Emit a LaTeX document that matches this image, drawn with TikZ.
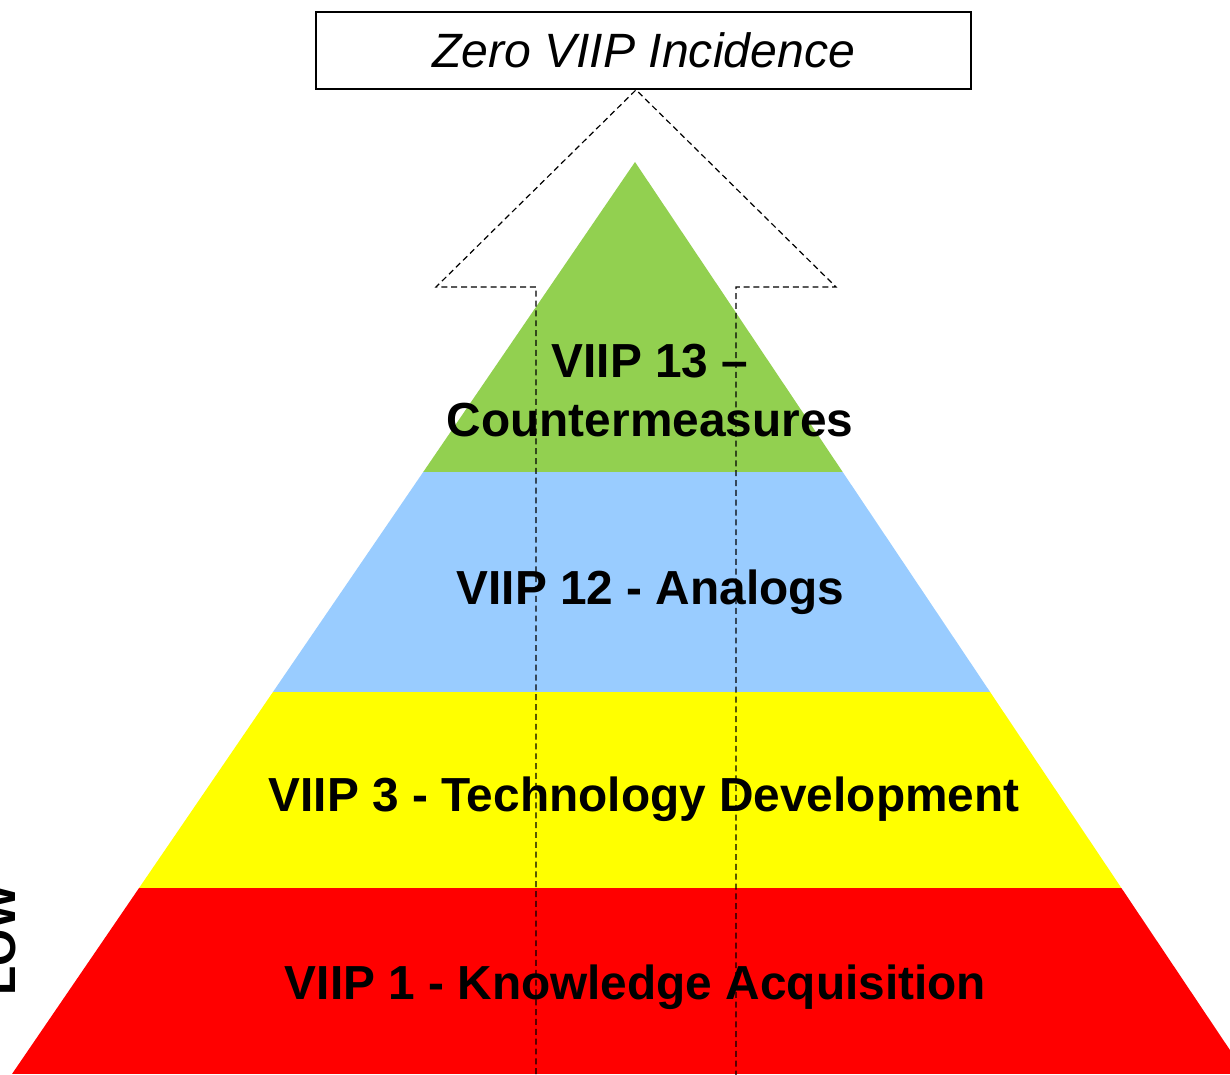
\documentclass[tikz,border=0pt]{standalone}
\usepackage{fontspec}
\setmainfont{Liberation Sans}
\definecolor{tiergreen}{HTML}{92D050}
\definecolor{tierblue}{HTML}{99CCFF}
\definecolor{tieryellow}{HTML}{FFFF00}
\definecolor{tierred}{HTML}{FF0000}
\begin{document}
\begin{tikzpicture}[
    goalbox/.style={draw, line width=0.018cm, minimum width=6.55cm, minimum height=0.77cm,
      inner sep=0pt, font=\fontsize{13.7}{16}\selectfont\itshape},
    tierlabel/.style={inner sep=0pt, align=center, font=\fontsize{13.6}{16.8}\selectfont\bfseries},
    guide/.style={line width=0.012cm, dash pattern=on 1.7pt off 1.1pt}]
    \useasboundingbox (0.000000,0.000000) rectangle (12.300000,10.740000);
    {
    % Pyramid layers, clipped by the outline
    \begin{scope}
      \clip (0.120000,0.000000) -- (6.350000,9.120000) -- (12.460000,0.000000) -- cycle;
      \fill [tierred] (0.000000,0.000000) rectangle (12.500000,1.860000);%
      \fill [tieryellow] (0.000000,1.860000) rectangle (12.500000,3.820000);%
      \fill [tierblue] (0.000000,3.820000) rectangle (12.500000,6.020000);%
      \fill [tiergreen] (0.000000,6.020000) rectangle (12.500000,9.200000);%
    \end{scope}

    % Side text, mostly cut off by the page edge
    \node (side) [rotate=90, anchor=base, font=\fontsize{13.6}{16}\selectfont\bfseries]
      at (0.150000,1.340000) {LOW};%

    % Layer labels
    \node (t13) [tierlabel] at (6.500000,6.830000) {VIIP 13 --\\Countermeasures};%
    \node (t12) [tierlabel, anchor=base] at (6.505000,4.690000) {VIIP 12 - Analogs};%
    \node (t3) [tierlabel, anchor=base] at (6.440000,2.620000) {VIIP 3 - Technology Development};%
    \node (t1) [tierlabel, anchor=base] at (6.355000,0.740000) {VIIP 1 - Knowledge Acquisition};%

    % Goal box
    \node (goal) [goalbox] at (6.435000,10.235000) {Zero VIIP Incidence};%

    % Dashed arrow up to the goal
    \coordinate (tip) at (goal.south -| 6.360000,0);
    \draw [guide] (5.360000,-0.100000) -- (5.360000,7.870000) -- (4.360000,7.870000)
      -- (tip) -- (8.360000,7.870000) -- (7.360000,7.870000) -- (7.360000,-0.100000);%
    }
\end{tikzpicture}
\end{document}
